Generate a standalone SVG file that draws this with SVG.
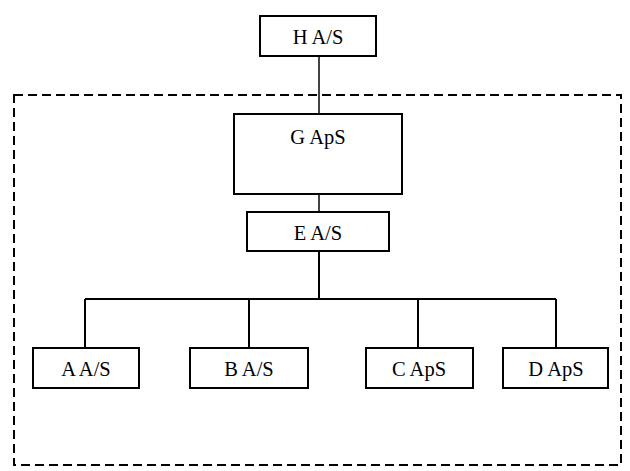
<svg xmlns="http://www.w3.org/2000/svg" width="630" height="471" viewBox="0 0 630 471">
<style>
.box{fill:#fff;stroke:#000;stroke-width:2}
.lbl{font-family:"Liberation Serif","Times New Roman",serif;font-size:20.5px;fill:#000;text-anchor:middle}
.con{stroke:#000;stroke-width:2;fill:none}
.h{stroke:#444}
</style>
<rect width="630" height="471" fill="#fff"/>
<rect id="group-boundary" x="14" y="95" width="607" height="370" fill="none" stroke="#000" stroke-width="2" stroke-dasharray="9 5"/>
<g id="connectors">
<line class="con h" x1="319" y1="56" x2="319" y2="114"/>
<line class="con h" x1="319" y1="194" x2="319" y2="212"/>
<polyline class="con" points="319,251 319,299"/>
<line class="con" x1="85" y1="299" x2="556" y2="299"/>
<line class="con" x1="85" y1="299" x2="85" y2="348"/>
<line class="con" x1="249" y1="299" x2="249" y2="348"/>
<line class="con" x1="418" y1="299" x2="418" y2="348"/>
<line class="con" x1="556" y1="299" x2="556" y2="348"/>
</g>
<g id="H"><rect class="box" x="260" y="16" width="116" height="40"/><text class="lbl" x="318" y="44">H A/S</text></g>
<g id="G"><rect class="box" x="234" y="114" width="168" height="80"/><text class="lbl" x="318" y="144">G ApS</text></g>
<g id="E"><rect class="box" x="247" y="212" width="142" height="39"/><text class="lbl" x="318" y="240">E A/S</text></g>
<g id="A"><rect class="box" x="33" y="348" width="106" height="40"/><text class="lbl" x="86" y="376">A A/S</text></g>
<g id="B"><rect class="box" x="190" y="348" width="118" height="40"/><text class="lbl" x="249" y="376">B A/S</text></g>
<g id="C"><rect class="box" x="366" y="348" width="107" height="40"/><text class="lbl" x="419" y="376">C ApS</text></g>
<g id="D"><rect class="box" x="503" y="348" width="105" height="40"/><text class="lbl" x="556" y="376">D ApS</text></g>
</svg>
